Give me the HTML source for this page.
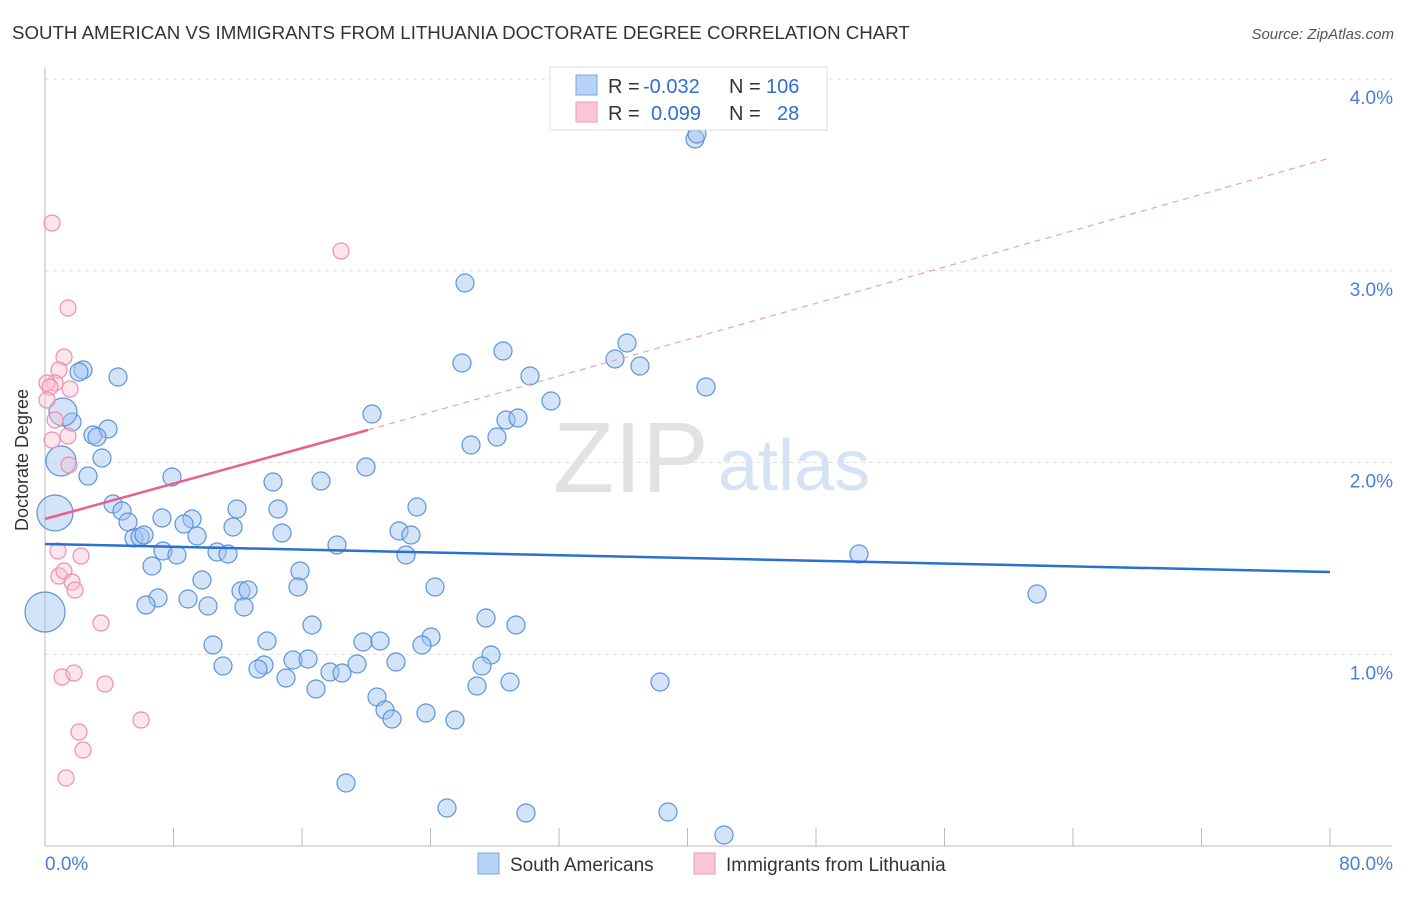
<!DOCTYPE html>
<html><head><meta charset="utf-8"><style>
body{margin:0;background:#fff;font-family:"Liberation Sans",sans-serif}
svg text{font-family:"Liberation Sans",sans-serif}
</style></head><body>
<svg width="1406" height="892">
<text x="12" y="39" font-size="18.7" fill="#333">SOUTH AMERICAN VS IMMIGRANTS FROM LITHUANIA DOCTORATE DEGREE CORRELATION CHART</text>
<text x="1394" y="39" font-size="15" fill="#555" text-anchor="end" font-style="italic">Source: ZipAtlas.com</text>
<g id="grid"></g>
<text x="553" y="492" font-size="100" fill="#e2e2e2" font-family="Liberation Serif">ZIP</text>
<text x="718" y="490" font-size="72" fill="#d6e3f5">atlas</text>
<g id="pts"></g>
<g id="trend"></g>
<text x="28" y="460" font-size="18" fill="#333" text-anchor="middle" transform="rotate(-90 28 460)">Doctorate Degree</text>
<g>
<rect x="550" y="67" width="277" height="63" fill="#fff" stroke="#ddd"/>
<rect x="576" y="75" width="21" height="20" fill="#b9d3f5" stroke="#7aa6e2"/>
<rect x="576" y="102" width="21" height="20" fill="#fac6d5" stroke="#ef9ab4"/>
<text y="93" font-size="20" fill="#333"><tspan x="608">R =</tspan><tspan x="643" fill="#2e6fd0">-0.032</tspan><tspan x="729">N =</tspan><tspan x="766" fill="#2e6fd0">106</tspan></text>
<text y="120" font-size="20" fill="#333"><tspan x="608">R =</tspan><tspan fill="#2e6fd0" x="651">0.099</tspan><tspan x="729">N =</tspan><tspan fill="#2e6fd0" x="777">28</tspan></text>
</g>
<g>
<rect x="478" y="853" width="21" height="21" fill="#b9d3f5" stroke="#7aa6e2"/>
<text x="510" y="871" font-size="19" fill="#333">South Americans</text>
<rect x="694" y="853" width="21" height="21" fill="#fac6d5" stroke="#ef9ab4"/>
<text x="726" y="871" font-size="19" fill="#333">Immigrants from Lithuania</text>
</g>
<text x="45" y="870" font-size="19" fill="#4a7fd4">0.0%</text>
<text x="1393" y="870" font-size="19" fill="#4a7fd4" text-anchor="end">80.0%</text>
</svg>
<script>
const yTicks=[1,2,3,4];
const yTickLabels=["1.0%","2.0%","3.0%","4.0%"];
const blueX=[695,697,465,503,462,627,615,640,530,706,551,372,506,518,497,471,366,321,273,278,237,417,399,411,282,233,337,406,172,162,192,184,197,163,177,217,228,152,202,300,298,241,248,188,158,146,208,244,435,486,516,312,267,213,363,380,431,422,491,482,293,308,264,258,223,330,342,357,396,286,316,477,510,660,377,385,392,426,455,346,447,526,668,724,859,1037,118,83,79,72,93,108,97,102,88,113,122,128,134,140,144,63,61,55,45].map(p=>(p-45)/1285*80);
const blueY=[139,134,283,351,363,343,359,366,376,387,401,414,420,418,437,445,467,481,482,509,509,507,531,535,533,527,545,555,477,518,519,524,536,551,555,552,554,566,580,571,587,591,590,599,598,605,606,607,587,618,625,625,641,645,642,641,637,645,655,666,660,659,665,669,666,672,673,664,662,678,689,686,682,682,697,710,719,713,720,783,808,813,812,835,554,594,377,370,372,422,435,429,437,458,476,504,511,522,538,537,535,412,461,513,612].map(p=>(846-p)/191.75);
const blueR=[9,9,9,9,9,9,9,9,9,9,9,9,9,9,9,9,9,9,9,9,9,9,9,9,9,9,9,9,9,9,9,9,9,9,9,9,9,9,9,9,9,9,9,9,9,9,9,9,9,9,9,9,9,9,9,9,9,9,9,9,9,9,9,9,9,9,9,9,9,9,9,9,9,9,9,9,9,9,9,9,9,9,9,9,9,9,9,9,9,9,9,9,9,9,9,9,9,9,9,9,9,14,15,18,20];
const pinkX=[52,341,68,64,59,55,47,50,70,47,52,68,55,69,58,81,59,64,72,75,101,62,74,105,141,79,83,66].map(p=>(p-45)/1285*80);
const pinkY=[223,251,308,357,370,383,383,387,389,400,440,436,420,465,551,556,576,571,582,590,623,677,673,684,720,732,750,778].map(p=>(846-p)/191.75);
const X=v=>45+v/80*1285, Y=v=>846-v*191.75;
const NS="http://www.w3.org/2000/svg";
function mk(t,a,p){const e=document.createElementNS(NS,t);for(const k in a)e.setAttribute(k,a[k]);p.appendChild(e);return e;}
const g=document.getElementById('grid');
yTicks.forEach((t,i)=>{
 const l=mk('line',{x1:45,x2:1392,y1:Y(t),y2:Y(t),stroke:'#ddd','stroke-dasharray':'4,4'},g);
 
 
 const tx=mk('text',{x:1393,y:Y(t)+25,'font-size':19,fill:'#4a7fd4','text-anchor':'end'},g);tx.textContent=yTickLabels[i];
 
 
});
mk('line',{x1:45,x2:45,y1:68,y2:846,stroke:'#bbb'},g);
mk('line',{x1:45,x2:1392,y1:846,y2:846,stroke:'#bbb'},g);
for(let i=0;i<=10;i++){const x=45+i*128.5;mk('line',{x1:x,x2:x,y1:828,y2:846,stroke:'#bbb'},g);}
const pg=document.getElementById('pts');
blueX.forEach((x,i)=>{const c=mk('circle',{cx:X(x),cy:Y(blueY[i]),r:blueR[i],fill:'rgba(160,195,240,0.45)',stroke:'#5b93dc','stroke-width':1.2},pg);
 
 });
pinkX.forEach((x,i)=>{const c=mk('circle',{cx:X(x),cy:Y(pinkY[i]),r:8,fill:'rgba(250,190,210,0.4)',stroke:'#ee8fad','stroke-width':1.2},pg);
 
 });
const tg=document.getElementById('trend');
const b=mk('line',{x1:45,y1:544,x2:1330,y2:572,stroke:'#2a6fd3','stroke-width':2.5},tg);


const p=mk('line',{x1:45,y1:519,x2:368,y2:430,stroke:'#e8608c','stroke-width':2.5},tg);


const pd=mk('line',{x1:368,y1:430,x2:1330,y2:158,stroke:'#eca0b8','stroke-width':1.2,'stroke-dasharray':'6,5'},tg);


</script>
</body></html>
